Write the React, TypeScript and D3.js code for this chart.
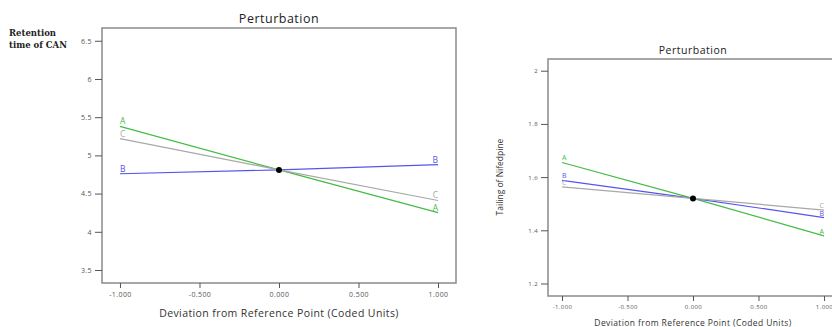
import { useEffect, useRef } from "react";
import * as d3 from "d3";

// coded deviation levels
const xLevels = [-1, 0, 1];
const xTicks = [-1, -0.5, 0, 0.5, 1];
const xTickLabels = ["-1.000", "-0.500", "0.000", "0.500", "1.000"];

// left: retention time of CAN
const retTicks = [3.5, 4, 4.5, 5, 5.5, 6, 6.5];
const retTickLabels = ["3.5", "4", "4.5", "5", "5.5", "6", "6.5"];
const retA = [5.38, 4.81, 4.25];
const retB = [4.76, 4.81, 4.88];
const retC = [5.22, 4.81, 4.41];

// right: tailing of nifedipine
const tailTicks = [1.2, 1.4, 1.6, 1.8, 2];
const tailTickLabels = ["1.2", "1.4", "1.6", "1.8", "2"];
const tailA = [1.655, 1.52, 1.379];
const tailB = [1.588, 1.52, 1.448];
const tailC = [1.563, 1.52, 1.476];

const seriesNames = ["A", "B", "C"];
const colors = { A: "#44bb44", B: "#5555ee", C: "#a8a8a8" };

type PanelCfg = {
  left: number;
  top: number;
  right: number;
  bottom: number;
  xDomain: [number, number];
  yDomain: [number, number];
  yTicks: number[];
  yTickLabels: string[];
  series: number[][];
  titleSize: number;
  tickSize: number;
  labelSize: number;
  letterSize: number;
  xLabelY: number;
};

function drawPanel(svg: any, cfg: PanelCfg) {
  const x = d3.scaleLinear().domain(cfg.xDomain).range([cfg.left, cfg.right]);
  const y = d3.scaleLinear().domain(cfg.yDomain).range([cfg.bottom, cfg.top]);
  const font = "'Open Sans', 'DejaVu Sans', sans-serif";
  const g = svg.append("g");

  // frame
  g.append("rect")
    .attr("x", cfg.left)
    .attr("y", cfg.top)
    .attr("width", cfg.right - cfg.left)
    .attr("height", cfg.bottom - cfg.top)
    .attr("fill", "none")
    .attr("stroke", "#8a8a8a")
    .attr("stroke-width", 1.5);

  // y axis
  const yAxis = g
    .append("g")
    .attr("transform", `translate(${cfg.left},0)`)
    .call(
      d3
        .axisLeft(y)
        .tickValues(cfg.yTicks)
        .tickFormat((d: any, i: number) => cfg.yTickLabels[i])
        .tickSize(7)
        .tickPadding(3)
    );
  yAxis.select(".domain").remove();
  yAxis.selectAll("line").attr("stroke", "#555");
  yAxis
    .selectAll("text")
    .attr("fill", "#555")
    .style("font-family", font)
    .style("font-size", cfg.tickSize + "px")
    .style("letter-spacing", "0.4px");

  // x axis
  const xAxis = g
    .append("g")
    .attr("transform", `translate(0,${cfg.bottom})`)
    .call(
      d3
        .axisBottom(x)
        .tickValues(xTicks)
        .tickFormat((d: any, i: number) => xTickLabels[i])
        .tickSize(5)
        .tickPadding(4)
    );
  xAxis.select(".domain").remove();
  xAxis.selectAll("line").attr("stroke", "#555");
  xAxis
    .selectAll("text")
    .attr("fill", "#555")
    .style("font-family", font)
    .style("font-size", cfg.tickSize + "px")
    .style("letter-spacing", "0.4px");

  // title
  g.append("text")
    .attr("x", x(0))
    .attr("y", cfg.top - 5)
    .attr("text-anchor", "middle")
    .style("font-family", font)
    .style("font-size", cfg.titleSize + "px")
    .style("letter-spacing", "0.5px")
    .attr("fill", "#222")
    .text("Perturbation");

  // x label
  g.append("text")
    .attr("x", x(0))
    .attr("y", cfg.xLabelY)
    .attr("text-anchor", "middle")
    .style("font-family", font)
    .style("font-size", cfg.labelSize + "px")
    .style("letter-spacing", "0.4px")
    .attr("fill", "#333")
    .text("Deviation from Reference Point (Coded Units)");

  const line = d3
    .line<number>()
    .x((d, i) => x(xLevels[i]))
    .y((d) => y(d));

  cfg.series.forEach((vals, k) => {
    const name = seriesNames[k];
    const c = (colors as any)[name];
    g.append("path")
      .attr("d", line(vals))
      .attr("fill", "none")
      .attr("stroke", c)
      .attr("stroke-width", 1.2);
    g.append("text")
      .attr("x", x(xLevels[0]))
      .attr("y", y(vals[0]) - 2)
      .attr("fill", c)
      .style("font-family", font)
      .style("font-size", cfg.letterSize + "px")
      .text(name);
    g.append("text")
      .attr("x", x(xLevels[2]))
      .attr("y", y(vals[2]) - 2)
      .attr("text-anchor", "end")
      .attr("fill", c)
      .style("font-family", font)
      .style("font-size", cfg.letterSize + "px")
      .text(name);
  });

  // reference point
  g.append("circle")
    .attr("cx", x(0))
    .attr("cy", y(cfg.series[0][1]))
    .attr("r", 3)
    .attr("fill", "#000");
}

export default function App() {
  const svgRef = useRef<SVGSVGElement>(null);

  useEffect(() => {
    const svg = d3.select(svgRef.current);
    svg.selectAll("*").remove();

    drawPanel(svg, {
      left: 102,
      top: 28,
      right: 456,
      bottom: 283,
      xDomain: [-1.113, 1.113],
      yDomain: [3.33, 6.667],
      yTicks: retTicks,
      yTickLabels: retTickLabels,
      series: [retA, retB, retC],
      titleSize: 12.5,
      tickSize: 7,
      labelSize: 10.5,
      letterSize: 8.5,
      xLabelY: 317,
    });

    drawPanel(svg, {
      left: 548,
      top: 59,
      right: 838,
      bottom: 296,
      xDomain: [-1.107, 1.107],
      yDomain: [1.153, 2.044],
      yTicks: tailTicks,
      yTickLabels: tailTickLabels,
      series: [tailA, tailB, tailC],
      titleSize: 10.5,
      tickSize: 6,
      labelSize: 8.5,
      letterSize: 7,
      xLabelY: 326,
    });

    // left y label
    const yl = svg
      .append("text")
      .attr("x", 9)
      .attr("y", 36)
      .style("font-family", "'DejaVu Serif', 'Liberation Serif', serif")
      .style("font-size", "8.5px")
      .style("font-weight", "bold")
      .attr("fill", "#222");
    yl.append("tspan").attr("x", 9).attr("dy", 0).text("Retention");
    yl.append("tspan").attr("x", 9).attr("dy", 11.5).text("time of CAN");

    // right y label
    svg
      .append("text")
      .attr("transform", "translate(503,177) rotate(-90)")
      .attr("text-anchor", "middle")
      .style("font-family", "'Open Sans', 'DejaVu Sans', sans-serif")
      .style("font-size", "8.5px")
      .attr("fill", "#333")
      .text("Tailing of Nifedpine");
  }, []);

  return (
    <svg
      ref={svgRef}
      width={832}
      height={327}
      style={{ position: "absolute", left: 0, top: 0, background: "#fff" }}
    />
  );
}
